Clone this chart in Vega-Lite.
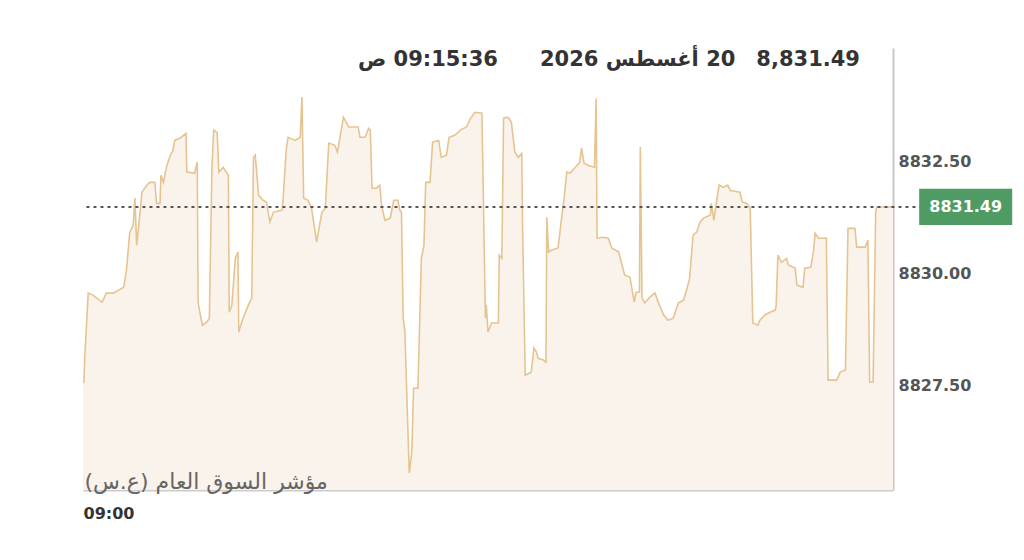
{
  "$schema": "https://vega.github.io/schema/vega-lite/v6.json",
  "width": 810,
  "height": 442,
  "autosize": {"type": "none"},
  "padding": {"left": 83, "top": 48, "right": 131, "bottom": 70},
  "background": "white",
  "config": {"view": {"stroke": null}, "font": "DejaVu Sans"},
  "title": {
    "text": "\u202B8,831.49\u200320 أغسطس 2026\u2003\u200309:15:36 ص\u202C",
    "anchor": "end",
    "frame": "group",
    "dx": -33,
    "offset": -39,
    "baseline": "alphabetic",
    "font": "DejaVu Sans",
    "fontSize": 21,
    "fontWeight": "bold",
    "color": "#333333"
  },
  "datasets": {
    "series": [
      {"t":"09:00:00","v":8827.55},{"t":"09:00:01","v":8827.57},{"t":"09:00:02","v":8828.10},{"t":"09:00:06","v":8829.56},
      {"t":"09:00:12","v":8829.51},{"t":"09:00:22","v":8829.36},{"t":"09:00:27","v":8829.56},{"t":"09:00:35","v":8829.56},
      {"t":"09:00:47","v":8829.69},{"t":"09:00:50","v":8830.03},{"t":"09:00:54","v":8830.92},{"t":"09:00:58","v":8831.08},
      {"t":"09:01:00","v":8831.69},{"t":"09:01:02","v":8830.63},{"t":"09:01:06","v":8831.37},{"t":"09:01:08","v":8831.82},
      {"t":"09:01:14","v":8831.98},{"t":"09:01:17","v":8832.04},{"t":"09:01:23","v":8832.04},{"t":"09:01:25","v":8831.57},
      {"t":"09:01:29","v":8831.57},{"t":"09:01:30","v":8832.20},{"t":"09:01:33","v":8832.04},{"t":"09:01:35","v":8832.25},
      {"t":"09:01:37","v":8832.42},{"t":"09:01:41","v":8832.65},{"t":"09:01:44","v":8832.76},{"t":"09:01:46","v":8832.98},
      {"t":"09:01:52","v":8833.03},{"t":"09:01:59","v":8833.14},{"t":"09:02:00","v":8832.27},{"t":"09:02:09","v":8832.25},
      {"t":"09:02:12","v":8832.49},{"t":"09:02:13","v":8829.36},{"t":"09:02:15","v":8829.13},{"t":"09:02:18","v":8828.84},
      {"t":"09:02:23","v":8828.91},{"t":"09:02:26","v":8829.00},{"t":"09:02:29","v":8832.36},{"t":"09:02:31","v":8833.21},
      {"t":"09:02:35","v":8833.16},{"t":"09:02:37","v":8832.27},{"t":"09:02:42","v":8832.38},{"t":"09:02:48","v":8832.20},
      {"t":"09:02:49","v":8829.13},{"t":"09:02:52","v":8829.29},{"t":"09:02:56","v":8830.34},{"t":"09:02:59","v":8830.48},
      {"t":"09:03:00","v":8828.69},{"t":"09:03:05","v":8829.00},{"t":"09:03:11","v":8829.29},{"t":"09:03:15","v":8829.45},
      {"t":"09:03:17","v":8832.60},{"t":"09:03:19","v":8832.65},{"t":"09:03:23","v":8831.75},{"t":"09:03:28","v":8831.64},
      {"t":"09:03:32","v":8831.60},{"t":"09:03:36","v":8831.15},{"t":"09:03:40","v":8831.37},{"t":"09:03:50","v":8831.42},
      {"t":"09:03:51","v":8831.60},{"t":"09:03:55","v":8832.81},{"t":"09:03:57","v":8833.05},{"t":"09:04:05","v":8832.98},
      {"t":"09:04:11","v":8833.05},{"t":"09:04:13","v":8833.95},{"t":"09:04:15","v":8831.69},{"t":"09:04:20","v":8831.64},
      {"t":"09:04:24","v":8831.48},{"t":"09:04:30","v":8830.70},{"t":"09:04:36","v":8831.37},{"t":"09:04:40","v":8831.46},
      {"t":"09:04:44","v":8832.92},{"t":"09:04:51","v":8832.87},{"t":"09:04:54","v":8832.72},{"t":"09:05:01","v":8833.50},
      {"t":"09:05:07","v":8833.28},{"t":"09:05:18","v":8833.28},{"t":"09:05:20","v":8833.05},{"t":"09:05:26","v":8833.05},
      {"t":"09:05:30","v":8833.25},{"t":"09:05:32","v":8833.21},{"t":"09:05:34","v":8831.91},{"t":"09:05:39","v":8831.91},
      {"t":"09:05:43","v":8831.98},{"t":"09:05:45","v":8831.53},{"t":"09:05:49","v":8831.19},{"t":"09:05:55","v":8831.24},
      {"t":"09:05:59","v":8831.64},{"t":"09:06:04","v":8831.64},{"t":"09:06:06","v":8831.42},{"t":"09:06:08","v":8831.37},
      {"t":"09:06:10","v":8829.00},{"t":"09:06:12","v":8828.69},{"t":"09:06:15","v":8826.76},{"t":"09:06:17","v":8825.53},
      {"t":"09:06:20","v":8826.00},{"t":"09:06:22","v":8827.43},{"t":"09:06:27","v":8827.43},{"t":"09:06:31","v":8830.34},
      {"t":"09:06:34","v":8830.63},{"t":"09:06:36","v":8832.04},{"t":"09:06:41","v":8832.04},{"t":"09:06:44","v":8832.94},
      {"t":"09:06:51","v":8832.98},{"t":"09:06:54","v":8832.60},{"t":"09:07:00","v":8832.65},{"t":"09:07:03","v":8833.05},
      {"t":"09:07:10","v":8833.10},{"t":"09:07:16","v":8833.21},{"t":"09:07:23","v":8833.28},{"t":"09:07:28","v":8833.48},
      {"t":"09:07:33","v":8833.61},{"t":"09:07:41","v":8833.59},{"t":"09:07:45","v":8829.00},{"t":"09:07:46","v":8829.29},
      {"t":"09:07:48","v":8828.69},{"t":"09:07:52","v":8828.89},{"t":"09:08:00","v":8828.89},{"t":"09:08:01","v":8830.41},
      {"t":"09:08:04","v":8830.34},{"t":"09:08:06","v":8833.48},{"t":"09:08:11","v":8833.50},{"t":"09:08:15","v":8833.39},
      {"t":"09:08:19","v":8832.72},{"t":"09:08:23","v":8832.60},{"t":"09:08:27","v":8832.69},{"t":"09:08:28","v":8831.01},
      {"t":"09:08:31","v":8827.72},{"t":"09:08:38","v":8827.79},{"t":"09:08:41","v":8828.33},{"t":"09:08:44","v":8828.24},
      {"t":"09:08:46","v":8828.10},{"t":"09:08:52","v":8828.06},{"t":"09:08:55","v":8828.01},{"t":"09:08:56","v":8831.26},
      {"t":"09:08:58","v":8830.48},{"t":"09:09:01","v":8830.52},{"t":"09:09:09","v":8830.57},{"t":"09:09:13","v":8831.24},
      {"t":"09:09:16","v":8831.69},{"t":"09:09:19","v":8832.27},{"t":"09:09:23","v":8832.25},{"t":"09:09:29","v":8832.38},
      {"t":"09:09:34","v":8832.49},{"t":"09:09:36","v":8832.81},{"t":"09:09:39","v":8832.47},{"t":"09:09:44","v":8832.42},
      {"t":"09:09:51","v":8832.38},{"t":"09:09:53","v":8833.92},{"t":"09:09:54","v":8830.79},{"t":"09:10:01","v":8830.81},
      {"t":"09:10:07","v":8830.79},{"t":"09:10:11","v":8830.57},{"t":"09:10:19","v":8830.48},{"t":"09:10:22","v":8830.25},
      {"t":"09:10:26","v":8829.96},{"t":"09:10:32","v":8829.92},{"t":"09:10:35","v":8829.58},{"t":"09:10:37","v":8829.36},
      {"t":"09:10:39","v":8829.58},{"t":"09:10:43","v":8829.58},{"t":"09:10:44","v":8832.83},{"t":"09:10:46","v":8829.45},
      {"t":"09:10:49","v":8829.34},{"t":"09:10:55","v":8829.47},{"t":"09:11:01","v":8829.56},{"t":"09:11:06","v":8829.29},
      {"t":"09:11:11","v":8829.07},{"t":"09:11:16","v":8828.95},{"t":"09:11:22","v":8829.00},{"t":"09:11:28","v":8829.34},
      {"t":"09:11:34","v":8829.40},{"t":"09:11:38","v":8829.67},{"t":"09:11:41","v":8829.89},{"t":"09:11:45","v":8830.86},
      {"t":"09:11:49","v":8830.92},{"t":"09:11:53","v":8831.15},{"t":"09:11:57","v":8831.24},{"t":"09:12:05","v":8831.31},
      {"t":"09:12:06","v":8831.57},{"t":"09:12:09","v":8831.19},{"t":"09:12:12","v":8831.60},{"t":"09:12:15","v":8831.98},
      {"t":"09:12:20","v":8831.93},{"t":"09:12:25","v":8831.98},{"t":"09:12:28","v":8831.86},{"t":"09:12:39","v":8831.82},
      {"t":"09:12:42","v":8831.60},{"t":"09:12:47","v":8831.57},{"t":"09:12:51","v":8831.46},{"t":"09:12:54","v":8828.89},
      {"t":"09:13:00","v":8828.84},{"t":"09:13:02","v":8828.95},{"t":"09:13:08","v":8829.07},{"t":"09:13:14","v":8829.13},
      {"t":"09:13:20","v":8829.18},{"t":"09:13:21","v":8829.29},{"t":"09:13:23","v":8830.41},{"t":"09:13:27","v":8830.25},
      {"t":"09:13:33","v":8830.34},{"t":"09:13:35","v":8830.19},{"t":"09:13:43","v":8830.12},{"t":"09:13:45","v":8829.74},
      {"t":"09:13:52","v":8829.69},{"t":"09:13:54","v":8830.12},{"t":"09:14:01","v":8830.14},{"t":"09:14:04","v":8830.48},
      {"t":"09:14:06","v":8830.90},{"t":"09:14:10","v":8830.79},{"t":"09:14:19","v":8830.79},{"t":"09:14:21","v":8827.61},
      {"t":"09:14:31","v":8827.61},{"t":"09:14:35","v":8827.79},{"t":"09:14:41","v":8827.84},{"t":"09:14:44","v":8831.01},
      {"t":"09:14:52","v":8831.01},{"t":"09:14:54","v":8830.59},{"t":"09:15:04","v":8830.59},{"t":"09:15:07","v":8830.75},
      {"t":"09:15:09","v":8827.57},{"t":"09:15:13","v":8827.57},{"t":"09:15:16","v":8831.37},{"t":"09:15:17","v":8831.49},
      {"t":"09:15:36","v":8831.49}
    ],
    "last": [{"v": 8831.49, "label": "8831.49"}]
  },
  "layer": [
    {
      "data": {"name": "series", "format": {"parse": {"t": "date:'%H:%M:%S'"}}},
      "mark": {
        "type": "area",
        "color": "#faf3eb",
        "opacity": 1,
        "clip": true,
        "line": {"color": "#e6c491", "strokeWidth": 1.6}
      },
      "encoding": {
        "x": {
          "field": "t",
          "type": "temporal",
          "scale": {"domain": [
            {"year": 1900, "month": 1, "date": 1, "hours": 9, "minutes": 0, "seconds": 0},
            {"year": 1900, "month": 1, "date": 1, "hours": 9, "minutes": 15, "seconds": 36}
          ]},
          "axis": {
            "title": null,
            "values": [{"year": 1900, "month": 1, "date": 1, "hours": 9, "minutes": 0, "seconds": 0}],
            "format": "%H:%M",
            "labelAlign": "left",
            "labelFlush": false,
            "labelFont": "DejaVu Sans",
            "labelFontWeight": "bold",
            "labelFontSize": 16,
            "labelColor": "#333333",
            "labelPadding": 15,
            "ticks": false,
            "grid": false,
            "domainColor": "#cccccc",
            "domainWidth": 2
          }
        },
        "y": {
          "field": "v",
          "type": "quantitative",
          "scale": {"domain": [8825.15, 8835.05], "zero": false, "nice": false},
          "axis": {
            "title": null,
            "orient": "right",
            "values": [8827.5, 8830, 8832.5],
            "format": ".2f",
            "labelFont": "DejaVu Sans",
            "labelFontWeight": "bold",
            "labelFontSize": 16,
            "labelColor": "#555555",
            "labelPadding": 5,
            "ticks": false,
            "grid": false,
            "domainColor": "#c8c8c8",
            "domainWidth": 2
          }
        }
      }
    },
    {
      "data": {"name": "last"},
      "mark": {"type": "rule", "color": "#555555", "strokeDash": [3, 4], "strokeWidth": 2},
      "encoding": {
        "x": {"datum": {"year": 1900, "month": 1, "date": 1, "hours": 9, "minutes": 0, "seconds": 4}, "type": "temporal"},
        "x2": {"datum": {"year": 1900, "month": 1, "date": 1, "hours": 9, "minutes": 16, "seconds": 10}},
        "y": {"field": "v", "type": "quantitative"}
      }
    },
    {
      "data": {"name": "last"},
      "mark": {"type": "point", "shape": "M-1,-0.39H1V0.39H-1Z", "filled": true, "size": 8649, "color": "#4f9b64", "opacity": 1, "strokeWidth": 0},
      "encoding": {
        "x": {"datum": {"year": 1900, "month": 1, "date": 1, "hours": 9, "minutes": 17, "seconds": 0}, "type": "temporal"},
        "y": {"field": "v", "type": "quantitative"}
      }
    },
    {
      "data": {"name": "last"},
      "mark": {"type": "text", "color": "#ffffff", "font": "DejaVu Sans", "fontWeight": "bold", "fontSize": 16, "align": "center", "baseline": "middle"},
      "encoding": {
        "x": {"datum": {"year": 1900, "month": 1, "date": 1, "hours": 9, "minutes": 17, "seconds": 0}, "type": "temporal"},
        "y": {"field": "v", "type": "quantitative"},
        "text": {"field": "label"}
      }
    },
    {
      "data": {"values": [{}]},
      "mark": {"type": "text", "text": "\u202Bمؤشر السوق العام (ع.س)\u202C", "font": "DejaVu Sans", "align": "right", "baseline": "middle", "fontSize": 22, "color": "#666666"},
      "encoding": {
        "x": {"datum": {"year": 1900, "month": 1, "date": 1, "hours": 9, "minutes": 4, "seconds": 43}, "type": "temporal"},
        "y": {"datum": 8825.33, "type": "quantitative"}
      }
    }
  ]
}
